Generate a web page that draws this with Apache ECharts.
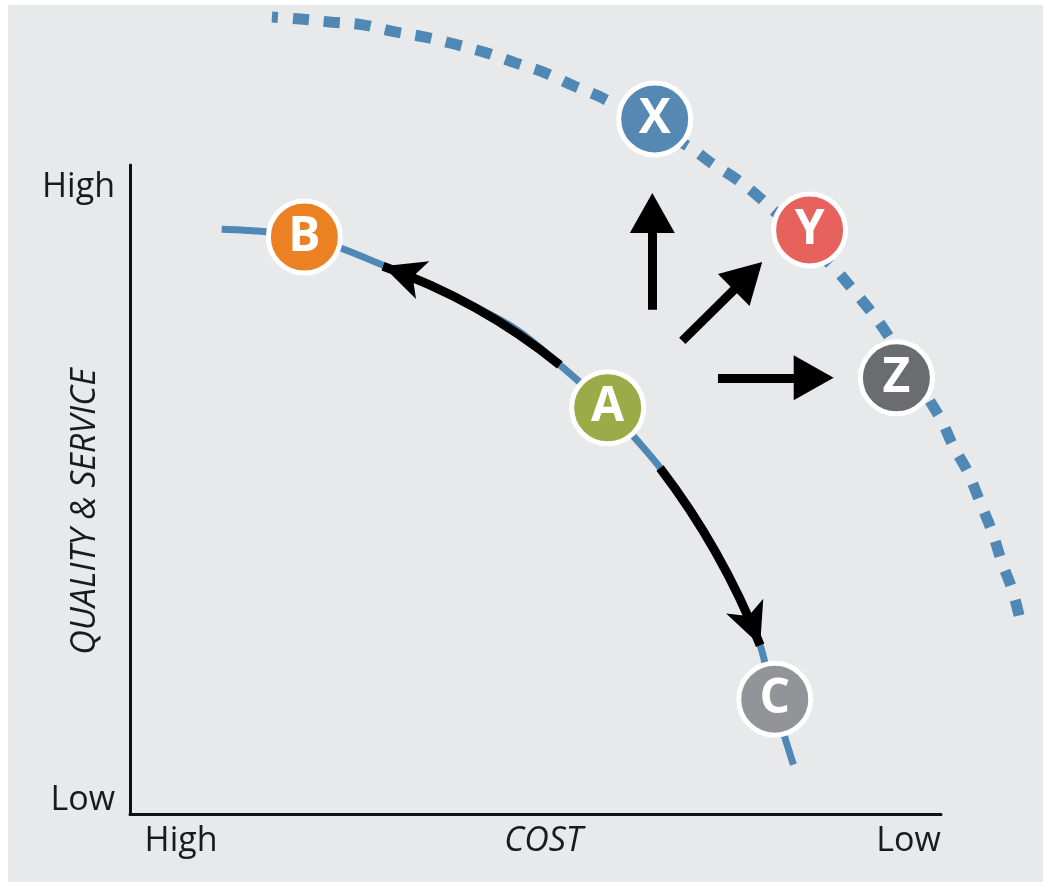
<!DOCTYPE html>
<html>
<head>
<meta charset="utf-8">
<script src="https://cdn.jsdelivr.net/npm/echarts@6/dist/echarts.min.js"></script>
<style>
  html, body { margin: 0; padding: 0; background: #ffffff; width: 1043px; height: 882px; overflow: hidden; }
  #chart { position: absolute; left: 8px; top: 5px; width: 1035px; height: 877px; }
</style>
</head>
<body>
<div id="chart"></div>
<script>
// Axis end labels (positions on a 0-100 scale)
const costLabelText = ['High', 'Low'];
const costLabelAt = [6.3, 96.0];
const qualityLabelText = ['Low', 'High'];
const qualityLabelAt = [2.1, 96.5];

// Current cost/quality frontier (solid)
const currentCost =    [11.3, 21.5, 31.7, 41.6, 47.7, 53.0, 58.9, 62.5, 65.4, 69.4, 72.8, 75.6, 77.7, 79.3, 81.8];
const currentQuality = [90.1, 88.9, 84.3, 78.7, 74.6, 69.2, 62.6, 57.6, 53.3, 46.4, 39.1, 31.9, 26.0, 17.9, 7.6];

// Improved frontier (dashed); it runs past the low-cost end of the axis
const targetCost =    [17.5, 21.0, 24.9, 28.7, 32.4, 36.4, 40.1, 43.9, 47.6, 51.2, 54.7, 58.3, 68.8, 71.8, 74.8, 77.8, 86.7, 89.0, 91.5, 93.5, 99.9, 101.5, 103.3, 104.8, 106.3, 107.5, 108.8, 109.7];
const targetQuality = [122.8, 122.5, 122.0, 121.6, 120.6, 119.7, 118.6, 117.3, 115.7, 114.2, 112.2, 110.3, 102.9, 100.2, 97.8, 94.8, 84.3, 81.0, 77.2, 73.7, 61.0, 56.7, 52.7, 48.1, 43.5, 38.8, 34.5, 30.2];

// Positions
const positionNames =   ['B', 'A', 'C', 'X', 'Y', 'Z'];
const positionCost =    [21.5, 58.9, 79.5, 64.7, 83.8, 94.5];
const positionQuality = [88.9, 62.6, 17.7, 107.1, 90.0, 67.2];

// Moves along the current frontier (A -> B, A -> C); end = arrow tip
const shiftFrom = [[53.0, 69.2], [65.35, 53.3]];
const shiftTo =   [[31.2, 84.4], [77.7, 26.0]];

// Moves out to the improved frontier (A -> X, Y, Z)
const jumpFrom = [[64.4, 77.7], [68.1, 72.9], [72.5, 67.2]];
const jumpTo =   [[64.4, 92.6], [76.2, 82.9], [84.3, 67.2]];

const FONT = '"Open Sans", "Noto Sans", "DejaVu Sans", sans-serif';
const TEXT = '#1a1a1a';
const FRONTIER_BLUE = '#5088b5';
const positionColors = ['#ec8124', '#9bab48', '#939498', '#5588b3', '#e8625d', '#6b6c70'];
const shiftBend = [-0.086, 0.069];

// Plot area: 0-100 on both axes
const PLOT = { left: 122, top: 160, width: 811, height: 649 };
const WIDE_MAX = 112; // extended cost range for the outer frontier, same scale
const wideWidth = PLOT.width * WIDE_MAX / 100;

function nearestLabel(values, texts, v) {
  let best = 0;
  for (let i = 1; i < values.length; i++) {
    if (Math.abs(values[i] - v) < Math.abs(values[best] - v)) best = i;
  }
  return texts[best];
}

const zip = (xs, ys) => xs.map((x, i) => [x, ys[i]]);

const hiddenAxis = {
  axisLine: { show: false }, axisTick: { show: false },
  axisLabel: { show: false }, splitLine: { show: false }
};

const chart = echarts.init(document.getElementById('chart'), null, { renderer: 'canvas' });

chart.setOption({
  backgroundColor: '#e8e9eb',
  animation: false,
  grid: [
    { left: PLOT.left, top: PLOT.top, width: PLOT.width, height: PLOT.height, outerBoundsMode: 'none', containLabel: false },
    { left: PLOT.left, top: PLOT.top, width: wideWidth, height: PLOT.height, outerBoundsMode: 'none', containLabel: false }
  ],
  xAxis: [
    {
      gridIndex: 0, type: 'value', min: 0, max: 100, interval: 100,
      name: 'COST', nameLocation: 'middle', nameGap: 10, nameMoveOverlap: false,
      nameTextStyle: { fontFamily: FONT, fontSize: 34, fontStyle: 'italic', color: TEXT, verticalAlign: 'top', padding: [0, 0, 0, 16] },
      axisLine: { show: true, onZero: false, lineStyle: { color: '#111111', width: 3 } },
      axisTick: { show: false },
      splitLine: { show: false },
      axisLabel: {
        customValues: costLabelAt,
        formatter: v => nearestLabel(costLabelAt, costLabelText, v),
        margin: 10, fontFamily: FONT, fontSize: 34, color: TEXT
      }
    },
    Object.assign({ gridIndex: 1, type: 'value', min: 0, max: WIDE_MAX }, hiddenAxis)
  ],
  yAxis: [
    {
      gridIndex: 0, type: 'value', min: 0, max: 100, interval: 100,
      name: 'QUALITY & SERVICE', nameLocation: 'middle', nameRotate: 90, nameGap: 28, nameMoveOverlap: false,
      nameTextStyle: { fontFamily: FONT, fontSize: 34, fontStyle: 'italic', color: TEXT, padding: [0, 44, 0, 0] },
      axisLine: { show: true, onZero: false, lineStyle: { color: '#111111', width: 3 } },
      axisTick: { show: false },
      splitLine: { show: false },
      axisLabel: {
        customValues: qualityLabelAt,
        formatter: v => nearestLabel(qualityLabelAt, qualityLabelText, v),
        margin: 15, fontFamily: FONT, fontSize: 34, color: TEXT
      }
    },
    Object.assign({ gridIndex: 1, type: 'value', min: 0, max: 100 }, hiddenAxis)
  ],
  series: [
    {
      name: 'Improved frontier',
      type: 'line',
      xAxisIndex: 1, yAxisIndex: 1,
      data: zip(targetCost, targetQuality),
      smooth: 0.35,
      showSymbol: false,
      clip: false,
      silent: true,
      z: 2,
      lineStyle: { color: FRONTIER_BLUE, width: 11, type: [16, 15], dashOffset: 10, cap: 'butt' }
    },
    {
      name: 'Current frontier',
      type: 'line',
      data: zip(currentCost, currentQuality),
      smooth: 0.35,
      showSymbol: false,
      clip: false,
      silent: true,
      z: 2,
      lineStyle: { color: FRONTIER_BLUE, width: 7 }
    },
    {
      name: 'Trade-off moves',
      type: 'lines',
      coordinateSystem: 'cartesian2d',
      silent: true,
      z: 3,
      symbol: ['none', 'arrow'],
      symbolSize: [1, [30, 42]],
      lineStyle: { color: '#000000', width: 9, opacity: 1 },
      data: shiftFrom.map((p, i) => ({
        coords: [p, shiftTo[i]],
        lineStyle: { curveness: shiftBend[i] }
      }))
    },
    {
      name: 'Improvement moves',
      type: 'lines',
      coordinateSystem: 'cartesian2d',
      silent: true,
      z: 3,
      symbol: ['none', 'triangle'],
      symbolSize: [1, [45, 40]],
      lineStyle: { color: '#000000', width: 9, opacity: 1, curveness: 0 },
      data: jumpFrom.map((p, i) => ({ coords: [p, jumpTo[i]] }))
    },
    {
      name: 'Positions',
      type: 'scatter',
      clip: false,
      silent: true,
      z: 4,
      symbol: 'circle',
      symbolSize: 72,
      itemStyle: { borderColor: '#ffffff', borderWidth: 5, opacity: 1 },
      label: {
        show: true, position: 'inside', formatter: '{b}',
        color: '#ffffff', fontFamily: FONT, fontWeight: 'bold', fontSize: 48
      },
      data: positionNames.map((n, i) => ({
        name: n,
        value: [positionCost[i], positionQuality[i]],
        itemStyle: { color: positionColors[i] }
      }))
    }
  ]
});
</script>
</body>
</html>
